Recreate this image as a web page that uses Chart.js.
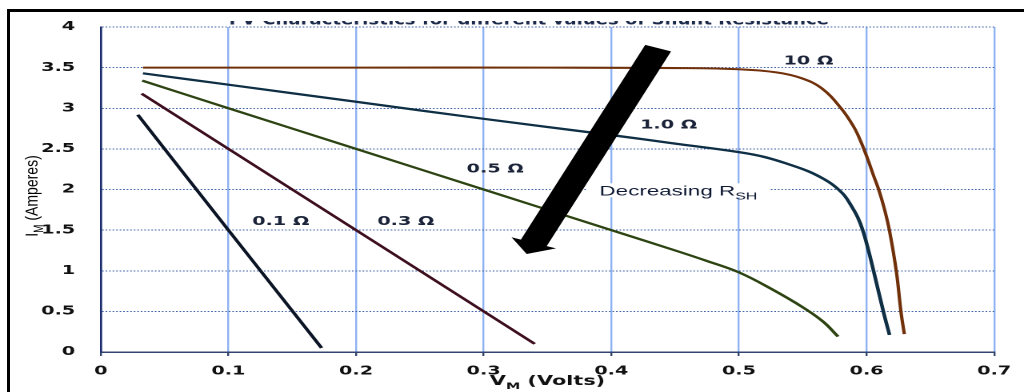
<!DOCTYPE html>
<html>
<head>
<meta charset="utf-8">
<title>I-V Characteristics for different values of Shunt Resistance</title>
<script src="https://cdn.jsdelivr.net/npm/chart.js@4.4.1/dist/chart.umd.min.js"></script>
<style>
    html, body { margin: 0; padding: 0; background: #fff; overflow: hidden; }
    body { width: 1024px; height: 392px; position: relative; }
    /* the source picture is stretched sideways, so the chart is drawn narrow and widened */
    #stretch { position: absolute; left: 0; top: 0; width: 640px; height: 392px; transform: scaleX(1.6); transform-origin: 0 0; }
    #frame { position: absolute; left: 7px; top: 9px; width: 1100px; height: 500px; border-left: 3px solid #000; border-top: 3px solid #000; pointer-events: none; }
</style>
</head>
<body>
<div id="stretch"><canvas id="chart" width="640" height="392"></canvas></div>
<div id="frame"></div>
<script>
// Values: V_M in volts, I_M in amperes
const v10 = [0.033, 0.2, 0.35, 0.45, 0.5, 0.53, 0.549, 0.5645, 0.58, 0.59, 0.5955, 0.601, 0.6055, 0.6095, 0.614, 0.618, 0.6234, 0.627, 0.6296];
const i10 = [3.50, 3.50, 3.50, 3.495, 3.48, 3.44, 3.37, 3.25, 3.0, 2.77, 2.59, 2.37, 2.17, 2.0, 1.76, 1.49, 0.985, 0.49, 0.22];

const v1 = [0.033, 0.1, 0.2, 0.3, 0.4, 0.45, 0.5, 0.52, 0.541, 0.555, 0.567, 0.573, 0.578, 0.583, 0.588, 0.593, 0.597, 0.6015, 0.6057, 0.6133, 0.618];
const i1 = [3.43, 3.29, 3.08, 2.87, 2.67, 2.565, 2.46, 2.40, 2.30, 2.22, 2.125, 2.065, 2.0, 1.92, 1.80, 1.66, 1.50, 1.25, 0.985, 0.49, 0.21];

const v05 = [0.0325, 0.1, 0.2, 0.3, 0.4, 0.45, 0.475, 0.5, 0.525, 0.5506, 0.566, 0.5777];
const i05 = [3.34, 3.0, 2.5, 2.0, 1.5, 1.25, 1.12, 0.98, 0.78, 0.545, 0.373, 0.19];

const v03 = [0.032, 0.1, 0.2, 0.3, 0.34];
const i03 = [3.18, 2.5, 1.5, 0.5, 0.10];

const v01 = [0.029, 0.1, 0.173];
const i01 = [2.92, 1.50, 0.05];

const xTickLabels = ['0', '0.1', '0.2', '0.3', '0.4', '0.5', '0.6', '0.7'];
const yTickLabels = ['0', '0.5', '1', '1.5', '2', '2.5', '3', '3.5', '4'];

// Curve names and where they sit (in volts / amperes)
const seriesNames = ['10 Ω', '1.0 Ω', '0.5 Ω', '0.3 Ω', '0.1 Ω'];
const nameV = [0.5544, 0.4449, 0.309, 0.239, 0.141];
const nameI = [3.58, 2.79, 2.25, 1.60, 1.60];

// Arrow "Decreasing R_SH" from tail to tip (volts / amperes)
const arrowFrom = [0.4367, 3.74];
const arrowTo = [0.3337, 1.206];
const noteAt = [0.4526, 1.99];

const COLORS = {
    r10: '#70300a',
    r1: '#0f2f45',
    r05: '#2d4412',
    r03: '#3d0f1e',
    r01: '#0c1526',
    text: '#1b2338'
};

function series(v, i, color, width) {
    return {
        data: v.map((vv, k) => ({ x: vv, y: i[k] })),
        borderColor: color,
        borderWidth: width,
        pointRadius: 0,
        fill: false,
        tension: 0.4,
        borderCapStyle: 'butt'
    };
}

// Draws text made of normal and subscript parts, centered on cx, baseline cy
function drawRich(ctx, parts, cx, cy, size, weight, family) {
    const fontFor = p => `${weight} ${p.sub ? Math.round(size * 0.72) : size}px ${family}`;
    let total = 0;
    parts.forEach(p => { ctx.font = fontFor(p); total += ctx.measureText(p.t).width; });
    let px = cx - total / 2;
    ctx.textAlign = 'left';
    ctx.textBaseline = 'alphabetic';
    parts.forEach(p => {
        ctx.font = fontFor(p);
        ctx.fillText(p.t, px, cy + (p.sub ? size * 0.3 : 0));
        px += ctx.measureText(p.t).width;
    });
    return total;
}

const overlay = {
    id: 'overlay',
    afterDatasetsDraw(chart) {
        const { ctx, scales: { x, y } } = chart;
        ctx.save();

        // curve names
        ctx.font = 'bold 12px "DejaVu Sans"';
        ctx.fillStyle = COLORS.text;
        ctx.textAlign = 'center';
        ctx.textBaseline = 'middle';
        seriesNames.forEach((n, k) => {
            ctx.fillText(n, x.getPixelForValue(nameV[k]), y.getPixelForValue(nameI[k]));
        });

        // note with a white box over the grid line
        const nx = x.getPixelForValue(noteAt[0]);
        const ny = y.getPixelForValue(noteAt[1]);
        const noteParts = [{ t: 'Decreasing R' }, { t: 'SH', sub: true }];
        ctx.font = '14px "Liberation Sans"';
        let w = ctx.measureText('Decreasing R').width;
        ctx.font = '10px "Liberation Sans"';
        w += ctx.measureText('SH').width;
        ctx.fillStyle = '#fff';
        ctx.fillRect(nx - w / 2 - 8, ny - 7, w + 16, 14);
        ctx.fillStyle = '#0f1a33';
        drawRich(ctx, noteParts, nx, ny + 5, 14, 'normal', '"Liberation Sans"');

        // thick arrow
        const tx = x.getPixelForValue(arrowFrom[0]), ty = y.getPixelForValue(arrowFrom[1]);
        const hx = x.getPixelForValue(arrowTo[0]), hy = y.getPixelForValue(arrowTo[1]);
        const len = Math.hypot(hx - tx, hy - ty);
        const ux = (hx - tx) / len, uy = (hy - ty) / len;
        const px = -uy, py = ux;
        const shaft = 8.7, head = 15, headLen = 12;
        const bx = hx - ux * headLen, by = hy - uy * headLen;
        ctx.beginPath();
        ctx.moveTo(tx + px * shaft, ty + py * shaft);
        ctx.lineTo(bx + px * shaft, by + py * shaft);
        ctx.lineTo(bx + px * head, by + py * head);
        ctx.lineTo(hx, hy);
        ctx.lineTo(bx - px * head, by - py * head);
        ctx.lineTo(bx - px * shaft, by - py * shaft);
        ctx.lineTo(tx - px * shaft, ty - py * shaft);
        ctx.closePath();
        ctx.fillStyle = '#000';
        ctx.fill();

        ctx.restore();
    },
    afterDraw(chart) {
        const { ctx, chartArea } = chart;
        ctx.save();
        ctx.fillStyle = '#111';

        // x axis title
        drawRich(ctx, [{ t: 'V' }, { t: 'M', sub: true }, { t: ' (Volts)' }],
            (chartArea.left + chartArea.right) / 2, chartArea.bottom + 33, 13, 'bold', '"DejaVu Sans"');

        // y axis title
        ctx.save();
        ctx.fillStyle = '#000';
        ctx.translate(23.5, 196);
        ctx.scale(0.8, 1);
        ctx.rotate(-Math.PI / 2);
        drawRich(ctx, [{ t: 'I' }, { t: 'M', sub: true }, { t: ' (Amperes)' }], 0, 0, 14, 'normal', '"Liberation Sans"');
        ctx.restore();

        // chart title, mostly hidden under the frame
        ctx.save();
        ctx.beginPath();
        ctx.rect(0, 21, chart.width, 20);
        ctx.clip();
        ctx.fillStyle = '#1b2a4a';
        ctx.font = 'bold 15px "DejaVu Sans"';
        ctx.textAlign = 'center';
        ctx.textBaseline = 'alphabetic';
        ctx.fillText('I-V Characteristics for different values of Shunt Resistance', 330.6, 24.5, 375);
        ctx.restore();

        ctx.restore();
    }
};

const tickFont = { family: 'DejaVu Sans', size: 12, weight: 'bold' };

new Chart(document.getElementById('chart'), {
    type: 'line',
    data: {
        datasets: [
            series(v01, i01, COLORS.r01, 2.3),
            series(v03, i03, COLORS.r03, 2.3),
            series(v05, i05, COLORS.r05, 2.2),
            series(v1, i1, COLORS.r1, 2.3),
            series(v10, i10, COLORS.r10, 2.1)
        ]
    },
    options: {
        responsive: false,
        animation: false,
        devicePixelRatio: 2,
        layout: { padding: { top: 27, right: 12, left: 0, bottom: 0 } },
        plugins: {
            legend: { display: false },
            tooltip: { enabled: false },
            title: { display: false }
        },
        scales: {
            x: {
                type: 'linear',
                min: 0,
                max: 0.7,
                afterFit: (scale) => { scale.height = 40; },
                ticks: {
                    stepSize: 0.1,
                    padding: 8,
                    color: '#111',
                    font: tickFont,
                    maxRotation: 0,
                    callback: (value) => xTickLabels[Math.round(value * 10)]
                },
                grid: { color: '#8fb2f2', lineWidth: 1.2, drawTicks: true, tickLength: 4, tickColor: '#33446e' },
                border: { color: '#33446e', width: 1.5 }
            },
            y: {
                min: 0,
                max: 4,
                afterFit: (scale) => { scale.width = 63; },
                ticks: {
                    stepSize: 0.5,
                    padding: 16,
                    color: '#111',
                    font: tickFont,
                    callback: (value) => yTickLabels[Math.round(value * 2)]
                },
                grid: { color: '#3d5ea6', lineWidth: 1, drawTicks: false },
                border: { color: '#1b2d6b', width: 1.3, dash: [1, 1.2] }
            }
        }
    },
    plugins: [overlay]
});
</script>
</body>
</html>
